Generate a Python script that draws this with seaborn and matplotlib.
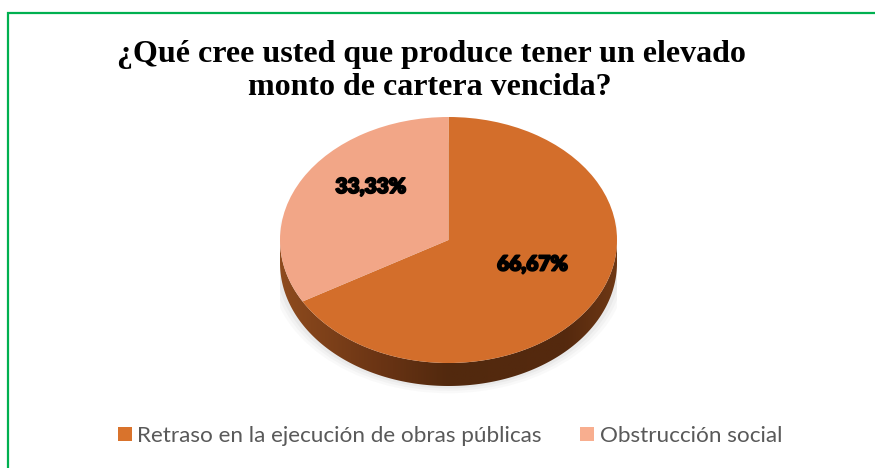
import numpy as np
import pandas as pd
import matplotlib
matplotlib.use("Agg")
import matplotlib.pyplot as plt
import matplotlib.patheffects as pe
import seaborn as sns
from matplotlib.patches import Patch, Polygon, Rectangle, Ellipse
from matplotlib.colors import LinearSegmentedColormap

# data
categories = ["Retraso en la ejecución de obras públicas", "Obstrucción social"]
percentages = [66.67, 33.33]
slice_colors = ["#D36E2B", "#F2A687"]
legend_colors = ["#D9732C", "#F8AE8F"]
label_xy = [(0.50, -0.20), (-0.46, 0.43)]  # label spots on the tilted top face
title_lines = ["¿Qué cree usted que produce tener un elevado", "monto de cartera vencida?"]

df = pd.DataFrame({"categoria": categories, "pct": percentages})

sns.set_theme(style="white")
plt.rcParams["font.family"] = ["Lato", "DejaVu Sans"]

W, H = 875, 468
fig = plt.figure(figsize=(W / 100, H / 100), dpi=100)
fig.patch.set_facecolor("white")


def fx(px):
    return px / W


def fy(py):
    return 1 - py / H


# green frame (runs off the right and bottom edges like the source)
fig.add_artist(Rectangle((fx(7.5), fy(480)), 1.0, fy(12.5) - fy(480),
                         transform=fig.transFigure, fill=False,
                         edgecolor="#00B050", linewidth=1.6))

# titles
fig.text(fx(431), fy(62), title_lines[0], ha="center", va="baseline",
         fontsize=23, fontweight="bold", family="Liberation Serif", color="black")
fig.text(fx(430), fy(95), title_lines[1], ha="center", va="baseline",
         fontsize=23, fontweight="bold", family="Liberation Serif", color="black")

# pie axes: ellipse for a tilted 3d look
cx, cy, a, b, depth = 448.5, 240, 168.5, 123, 23
d = depth / b
ax = fig.add_axes([fx(cx - a), fy(cy + b + depth + 12), 2 * a / W, (2 * b + depth + 12) / H])
pad = 12 / b

# soft shadow under the disc
for k, al in zip([1.06, 1.04, 1.02], [0.04, 0.05, 0.07]):
    ax.add_patch(Ellipse((0, -d - 0.02), 2 * k, 2 * k * 0.98, facecolor="#7f7f7f",
                         edgecolor="none", alpha=al, zorder=-2))

# side of the disc with a horizontal gradient
t = np.linspace(np.pi, 2 * np.pi, 200)
side = np.vstack([np.column_stack([np.cos(t), np.sin(t) - d]),
                  np.column_stack([np.cos(t[::-1]), np.sin(t[::-1])])])
side_patch = Polygon(side, closed=True, facecolor="none", edgecolor="none")
ax.add_patch(side_patch)
side_cmap = LinearSegmentedColormap.from_list(
    "side", [(0, "#8E4B1E"), (0.3, "#6A3414"), (0.5, "#52290E"), (0.85, "#55290E"), (1, "#6E3815")])
grad = np.linspace(0, 1, 256).reshape(1, -1)
im = ax.imshow(grad, cmap=side_cmap, extent=[-1, 1, -1 - d, 0], aspect="auto", zorder=0)
im.set_clip_path(side_patch)

# top face
wedges, texts, autotexts = ax.pie(
    df["pct"], colors=slice_colors, startangle=90, counterclock=False,
    wedgeprops=dict(linewidth=0),
    autopct=lambda p: f"{p:.2f}%".replace(".", ","),
    textprops=dict(fontsize=15, fontweight="heavy", color="black", family=["Lato", "DejaVu Sans"]))
for txt, (px, py) in zip(autotexts, label_xy):
    txt.set_position((px, py))
    txt.set_ha("center")
    txt.set_va("center")
    txt.set_path_effects([pe.withStroke(linewidth=1.3, foreground="black")])

ax.set_aspect("auto")
ax.set_xlim(-1, 1)
ax.set_ylim(-1 - d - pad, 1)
ax.axis("off")

# legend
handles = [Patch(facecolor=c, edgecolor="none") for c in legend_colors]
leg = fig.legend(handles, categories, loc="center", bbox_to_anchor=(fx(450), fy(436)),
                 ncol=2, frameon=False, fontsize=16.2, handlelength=0.62, handleheight=0.62,
                 handletextpad=0.25, columnspacing=1.7, borderpad=0)
for txt in leg.get_texts():
    txt.set_color("#595959")

fig.savefig("out.png", dpi=100, facecolor="white")
